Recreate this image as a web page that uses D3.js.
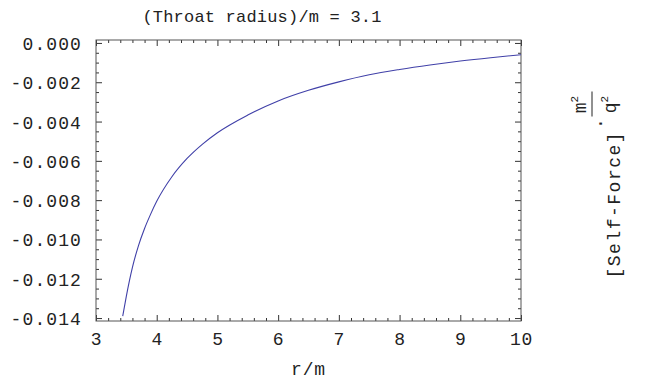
<!DOCTYPE html>
<html>
<head>
<meta charset="utf-8">
<script src="https://cdn.jsdelivr.net/npm/d3@7"></script>
<style>
  body { margin: 0; background: #fff; }
  text { font-family: "Liberation Mono", "DejaVu Sans Mono", monospace; fill: #222; }
</style>
</head>
<body>
<div id="chart"></div>
<script>
// r/m values and self-force values
const rValues = [3.44, 3.50, 3.60, 3.70, 3.80, 3.90, 4.00, 4.25, 4.50, 4.75, 5.00, 5.50, 6.00, 6.50, 7.00, 7.50, 8.00, 8.50, 9.00, 9.50, 10.0];
const forceValues = [-0.01390, -0.01288, -0.01142, -0.01031, -0.00944, -0.00871, -0.00806, -0.00681, -0.00588, -0.00516, -0.00457, -0.00367, -0.00295, -0.00241, -0.00198, -0.00162, -0.00135, -0.00112, -0.00092, -0.00075, -0.00060];

const xTicks = [3, 4, 5, 6, 7, 8, 9, 10];
const yTicks = [0, -0.002, -0.004, -0.006, -0.008, -0.010, -0.012, -0.014];
const yTickLabels = ['0.000', '-0.002', '-0.004', '-0.006', '-0.008', '-0.010', '-0.012', '-0.014'];
const titleText = '(Throat radius)/m = 3.1';
const xLabel = 'r/m';

const W = 647, H = 381;
const margin = { top: 40, right: 126, bottom: 60, left: 96 };
const width = W - margin.left - margin.right;
const height = H - margin.top - margin.bottom;

const svg = d3.select('#chart').append('svg')
  .attr('width', W)
  .attr('height', H);

const x = d3.scaleLinear().domain([3, 10]).range([0, width]);
const y = d3.scaleLinear().domain([-0.01415, 0.00015]).range([height, 0]);

const minorX = d3.range(3, 10.001, 0.2).map(v => +v.toFixed(2)).filter(v => !xTicks.includes(v));
const minorY = d3.range(-0.014, 0.0001, 0.0005).map(v => +v.toFixed(4)).filter(v => !yTicks.includes(v));

const chart = svg.append('g')
  .attr('transform', `translate(${margin.left},${margin.top})`);

// mirrored ticks on all four sides, pointing inward
function addAxis(axisFn, tr, values, size) {
  const g = chart.append('g')
    .attr('transform', tr)
    .call(axisFn.tickValues(values).tickSize(-size).tickSizeOuter(0).tickFormat(''));
  g.select('.domain').remove();
  g.selectAll('line').attr('stroke', '#333');
  return g;
}

addAxis(d3.axisBottom(x), `translate(0,${height})`, minorX, 3);
addAxis(d3.axisTop(x), 'translate(0,0)', minorX, 3);
addAxis(d3.axisLeft(y), 'translate(0,0)', minorY, 3);
addAxis(d3.axisRight(y), `translate(${width},0)`, minorY, 3);
addAxis(d3.axisTop(x), 'translate(0,0)', xTicks, 6);
addAxis(d3.axisRight(y), `translate(${width},0)`, yTicks, 6);

const xAxis = chart.append('g')
  .attr('transform', `translate(0,${height})`)
  .call(d3.axisBottom(x).tickValues(xTicks).tickSize(-6).tickSizeOuter(0).tickFormat(d3.format('d')));
xAxis.select('.domain').remove();
xAxis.selectAll('line').attr('stroke', '#333');
xAxis.selectAll('text')
  .attr('y', 24).attr('dy', null)
  .attr('font-size', 18).attr('letter-spacing', 0.8)
  .style('font-family', '"Liberation Mono", monospace').attr('fill', '#222');

const yAxis = chart.append('g')
  .call(d3.axisLeft(y).tickValues(yTicks).tickSize(-6).tickSizeOuter(0)
    .tickFormat((d, i) => yTickLabels[i]));
yAxis.select('.domain').remove();
yAxis.selectAll('line').attr('stroke', '#333');
yAxis.selectAll('text')
  .attr('x', -14).attr('dy', '0.36em')
  .attr('font-size', 18).attr('letter-spacing', 1.1)
  .style('font-family', '"Liberation Mono", monospace').attr('fill', '#222');

// frame
chart.append('rect')
  .attr('width', width).attr('height', height)
  .attr('fill', 'none').attr('stroke', '#555').attr('stroke-width', 1);

// curve
const pts = rValues.map((r, i) => [r, forceValues[i]]);
chart.append('path')
  .datum(pts)
  .attr('fill', 'none')
  .attr('stroke', '#4040a8')
  .attr('stroke-width', 1.1)
  .attr('d', d3.line().x(d => x(d[0])).y(d => y(d[1])).curve(d3.curveMonotoneX));

// title
svg.append('text')
  .attr('x', 262).attr('y', 22)
  .attr('text-anchor', 'middle')
  .attr('font-size', 17).attr('letter-spacing', 0.2)
  .text(titleText);

// x label
svg.append('text')
  .attr('x', margin.left + width / 2).attr('y', 375)
  .attr('text-anchor', 'middle')
  .attr('font-size', 18).attr('letter-spacing', 0.8)
  .text(xLabel);

// right label: [Self-Force] . m^2 / q^2
const rl = svg.append('g')
  .attr('transform', `translate(620,${margin.top + height / 2}) rotate(-90)`);
rl.append('text')
  .attr('x', -98).attr('y', 0)
  .attr('font-size', 18).attr('letter-spacing', 1.5)
  .text('[Self-Force]');
rl.append('text')
  .attr('x', 57).attr('y', -18)
  .attr('text-anchor', 'middle')
  .attr('font-size', 18)
  .text('.');
const fx = 76;
rl.append('text')
  .attr('x', fx).attr('y', -34)
  .attr('text-anchor', 'middle')
  .attr('font-size', 18)
  .html('m<tspan font-size="11" dy="-8">2</tspan>');
rl.append('line')
  .attr('x1', fx - 12).attr('x2', fx + 13)
  .attr('y1', -28).attr('y2', -28)
  .attr('stroke', '#222').attr('stroke-width', 1);
rl.append('text')
  .attr('x', fx).attr('y', -4)
  .attr('text-anchor', 'middle')
  .attr('font-size', 18)
  .html('q<tspan font-size="11" dy="-8">2</tspan>');
</script>
</body>
</html>
